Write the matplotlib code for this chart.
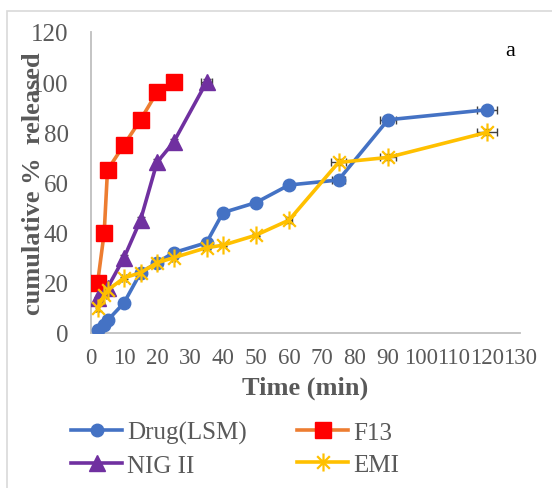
import matplotlib.pyplot as plt
from matplotlib.path import Path
from matplotlib.patches import Rectangle

plt.rcParams['font.family'] = ['Liberation Serif', 'DejaVu Serif']

# Release data (time in min, cumulative % released)
time_drug = [2, 4, 5, 10, 15, 20, 25, 35, 40, 50, 60, 75, 90, 120]
rel_drug = [1, 3, 5, 12, 24, 28, 32, 36, 48, 52, 59, 61, 85, 89]
xerr_drug = [0.5, 0.5, 0.5, 0.5, 0.5, 0.5, 0.5, 1, 1, 1, 1, 2, 2.4, 3]
yerr_drug = [0.5, 0.5, 0.5, 0.5, 0.5, 0.5, 0.5, 0.5, 0.5, 0.5, 0.5, 1.2, 1.2, 1.2]

time_f13 = [2, 4, 5, 10, 15, 20, 25]
rel_f13 = [20, 40, 65, 75, 85, 96, 100]

time_nig = [2, 5, 10, 15, 20, 25, 35]
rel_nig = [14, 18, 30, 45, 68, 76, 100]
xerr_nig = [0.5, 0.5, 0.5, 0.5, 0.5, 0.5, 1.8]
yerr_nig = [0.5, 0.5, 1.2, 1.2, 1.2, 1.2, 1.2]

time_emi = [2, 4, 5, 10, 15, 20, 25, 35, 40, 50, 60, 75, 90, 120]
rel_emi = [10, 15, 17, 22, 24, 28, 30, 34, 35, 39, 45, 68, 70, 80]
xerr_emi = [0.5, 0.5, 0.5, 0.5, 0.5, 0.5, 0.5, 1, 1, 1, 1, 2.3, 2.4, 3]
yerr_emi = [1.2, 0.5, 0.5, 0.5, 0.5, 0.5, 0.5, 0.5, 0.5, 0.5, 1.2, 1.2, 1.2, 1.2]

x_ticks = list(range(0, 131, 10))
y_ticks = list(range(0, 121, 20))

gray_text = '#595959'

# asterisk marker like the excel "star"
star = Path([(0, -1), (0, 1), (-0.7, -0.7), (0.7, 0.7), (-0.7, 0.7), (0.7, -0.7)],
            [Path.MOVETO, Path.LINETO, Path.MOVETO, Path.LINETO, Path.MOVETO, Path.LINETO])

fig = plt.figure(figsize=(5.52, 4.89), dpi=100)
ax = fig.add_axes([91 / 552, 1 - 334 / 489, 429 / 552, 301 / 489])

# outer chart border
fig.patches.append(Rectangle((7 / 552, -0.1), 1.2, 1.1 - 12 / 489, transform=fig.transFigure,
                             fill=False, edgecolor='#d9d9d9', linewidth=1.2))

err_kw = dict(fmt='none', ecolor='#404040', elinewidth=1, capsize=3, capthick=1, zorder=2)
ax.errorbar(time_drug, rel_drug, xerr=xerr_drug, yerr=yerr_drug, **err_kw)
ax.errorbar(time_nig, rel_nig, xerr=xerr_nig, yerr=yerr_nig, **err_kw)
ax.errorbar(time_emi, rel_emi, xerr=xerr_emi, yerr=yerr_emi, **err_kw)

l_drug, = ax.plot(time_drug, rel_drug, color='#4472C4', lw=2.6, marker='o', ms=9,
                  mfc='#4472C4', mec='#4472C4', label='Drug(LSM)', zorder=3)
l_f13, = ax.plot(time_f13, rel_f13, color='#ED7D31', lw=2.6, marker='s', ms=12,
                 mfc='#FF0000', mec='#FF0000', label='F13', zorder=4)
l_nig, = ax.plot(time_nig, rel_nig, color='#7030A0', lw=2.6, marker='^', ms=11,
                 mfc='#7030A0', mec='#7030A0', label='NIG II', zorder=5)
l_emi, = ax.plot(time_emi, rel_emi, color='#FFC000', lw=2.6, marker=star, ms=13,
                 mec='#FFC000', mew=1.6, label='EMI', zorder=6)

ax.set_xlim(0, 130)
ax.set_ylim(0, 120)
ax.set_xticks(x_ticks)
ax.set_yticks(y_ticks)
ax.tick_params(axis='both', length=0, colors=gray_text)
ax.tick_params(axis='x', labelsize=16.5, pad=10)
ax.tick_params(axis='y', labelsize=18, pad=16)

for s in ['top', 'right']:
    ax.spines[s].set_visible(False)
for s in ['left', 'bottom']:
    ax.spines[s].set_color('#bfbfbf')
    ax.spines[s].set_linewidth(1.3)

ax.set_ylabel('cumulative %  released', fontsize=19, fontweight='bold', color=gray_text)
ax.yaxis.set_label_coords(-0.135, 0.5)
ax.yaxis.label.set_va('center')
ax.set_xlabel('Time (min)', fontsize=19, fontweight='bold', color=gray_text)
ax.xaxis.set_label_coords(0.5, -0.179)
ax.xaxis.label.set_va('center')

fig.text(510 / 552, 1 - 52 / 489, 'a', fontsize=16, ha='center', va='center', color='black')

leg = fig.legend([l_drug, l_nig, l_f13, l_emi], ['Drug(LSM)', 'NIG II', 'F13', 'EMI'],
                 loc='upper left', bbox_to_anchor=(71 / 552, 1 - 422 / 489), ncol=2,
                 frameon=False, fontsize=18, handlelength=2.05, handletextpad=0.2,
                 columnspacing=2.0, labelspacing=0.4, borderpad=0, borderaxespad=0)
for t in leg.get_texts():
    t.set_color(gray_text)

fig.savefig('out.png', dpi=100)
